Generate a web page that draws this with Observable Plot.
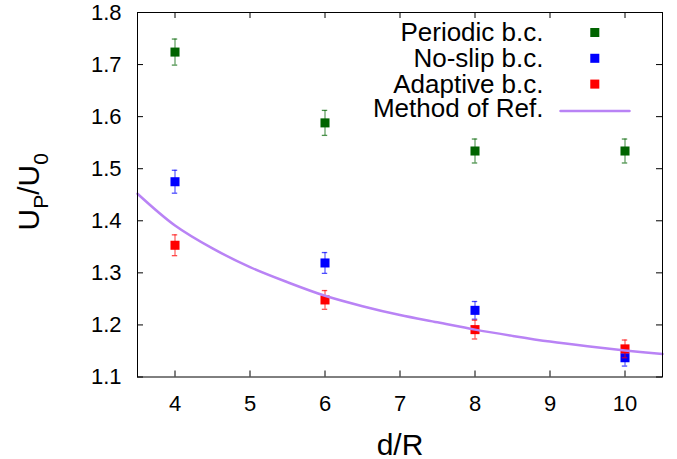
<!DOCTYPE html>
<html>
<head>
<meta charset="utf-8">
<script src="https://cdn.jsdelivr.net/npm/d3@7"></script>
<script src="https://cdn.jsdelivr.net/npm/@observablehq/plot@0.6"></script>
<style>
  html, body { margin: 0; padding: 0; background: #fff; }
  #chart svg { display: block; }
</style>
</head>
<body>
<div id="chart"></div>
<script>
// ---- data ----
const dR = [4, 6, 8, 10];
const periodic = [1.724, 1.588, 1.534, 1.534];
const periodicErr = [0.025, 0.024, 0.023, 0.023];
const noslip = [1.475, 1.319, 1.228, 1.137];
const noslipErr = [0.022, 0.020, 0.017, 0.016];
const adaptive = [1.353, 1.248, 1.191, 1.154];
const adaptiveErr = [0.020, 0.018, 0.018, 0.017];

const refX = [3.5, 4, 4.5, 5, 5.5, 6, 6.5, 7, 7.5, 8, 8.5, 9, 9.5, 10, 10.5];
const refY = [1.452, 1.391, 1.347, 1.311, 1.282, 1.256, 1.236, 1.219, 1.205, 1.191, 1.179, 1.168, 1.159, 1.151, 1.144];

const xTicks = [4, 5, 6, 7, 8, 9, 10];
const yTicks = [1.1, 1.2, 1.3, 1.4, 1.5, 1.6, 1.7, 1.8];

const seriesNames = ["Periodic b.c.", "No-slip b.c.", "Adaptive b.c."];
const seriesColors = ["#006400", "#0000ff", "#ff0000"];
const refName = "Method of Ref.";
const refColor = "#b983f5";
const xLabel = "d/R";

// ---- layout ----
const W = 677, H = 459;
const mL = 137, mR = 15, mT = 12, mB = 82.5;
const pw = W - mL - mR, ph = H - mT - mB;
const font = "'Liberation Sans', Arial, Helvetica, sans-serif";

const seriesVals = [periodic, noslip, adaptive];
const seriesErrs = [periodicErr, noslipErr, adaptiveErr];
const rows = [];
seriesVals.forEach((vals, s) => {
  vals.forEach((v, i) => rows.push({s, x: dR[i], y: v, lo: v - seriesErrs[s][i], hi: v + seriesErrs[s][i]}));
});
const refData = refX.map((x, i) => ({x, y: refY[i]}));

const marks = [];
// data series
seriesNames.forEach((name, s) => {
  const d = rows.filter(r => r.s === s);
  const c = seriesColors[s];
  marks.push(
    Plot.ruleX(d, {x: "x", y1: "lo", y2: "hi", stroke: c, strokeOpacity: 0.6, strokeWidth: 1.3}),
    Plot.ruleY(d, {x1: "x", x2: "x", y: "hi", insetLeft: -2.7, insetRight: -2.7, stroke: c, strokeOpacity: 0.7, strokeWidth: 1.3}),
    Plot.ruleY(d, {x1: "x", x2: "x", y: "lo", insetLeft: -2.7, insetRight: -2.7, stroke: c, strokeOpacity: 0.7, strokeWidth: 1.3}),
    Plot.dot(d, {x: "x", y: "y", symbol: "square", r: 5.1, fill: c, stroke: "none"})
  );
});
// reference curve
marks.push(Plot.line(refData, {x: "x", y: "y", stroke: refColor, strokeWidth: 2.5, curve: "catmull-rom"}));

// frame + inward ticks on all sides
marks.push(
  Plot.frame({stroke: "black", strokeWidth: 1}),
  Plot.tickX(xTicks, {x: d => d, insetTop: ph - 6, stroke: "black"}),
  Plot.tickX(xTicks, {x: d => d, insetBottom: ph - 6, stroke: "black"}),
  Plot.tickY(yTicks, {y: d => d, insetRight: pw - 6, stroke: "black"}),
  Plot.tickY(yTicks, {y: d => d, insetLeft: pw - 6, stroke: "black"}),
  Plot.axisX({ticks: xTicks, tickSize: 0, tickPadding: 18, fontSize: 22, label: null, tickFormat: d => String(d)}),
  Plot.axisY({ticks: yTicks, tickSize: 0, tickPadding: 16, fontSize: 22, label: null, tickFormat: d => d.toFixed(1)})
);

// axis titles
marks.push(
  Plot.text([xLabel], {text: d => d, frameAnchor: "bottom", dy: 77.5, lineAnchor: "bottom", fontSize: 30, fill: "black"}),
  Plot.text(["UP/U0"], {text: d => d, frameAnchor: "left", rotate: -90, textAnchor: "middle", lineAnchor: "bottom", dx: 38 - mL, dy: -3, fontSize: 30, fill: "black", className: "ylab"})
);

// legend (inside frame, top right)
const rowDy = i => 20.5 + i * 25.8;
const legFont = 26;
seriesNames.forEach((name, s) => {
  marks.push(
    Plot.text([name], {text: d => d, frameAnchor: "top-right", textAnchor: "end", lineAnchor: "middle", dx: 543 - (W - mR), dy: rowDy(s), fontSize: legFont, fill: "black"}),
    Plot.dot([name], {frameAnchor: "top-right", dx: 594.3 - (W - mR), dy: rowDy(s) - 0.5, symbol: "square", r: 5.1, fill: seriesColors[s], stroke: "none"})
  );
});
marks.push(
  Plot.text([refName], {text: d => d, frameAnchor: "top-right", textAnchor: "end", lineAnchor: "middle", dx: 543 - (W - mR), dy: rowDy(3) - 1.5, fontSize: legFont, fill: "black"}),
  Plot.vector([refName], {frameAnchor: "top-right", dx: 560 - (W - mR), dy: rowDy(3) + 0.5, length: 69, rotate: 90, anchor: "start",
    shape: {draw(ctx, l) { ctx.moveTo(0, 0); ctx.lineTo(0, -l); }}, stroke: refColor, strokeWidth: 2.5})
);

const svg = Plot.plot({
  width: W, height: H,
  marginLeft: mL, marginRight: mR, marginTop: mT, marginBottom: mB,
  x: {domain: [3.5, 10.5]},
  y: {domain: [1.1, 1.8]},
  style: {fontFamily: font, background: "#fff", color: "black", overflow: "visible"},
  marks
});

// y label with subscripts
const yl = d3.select(svg).selectAll("text").filter(function () { return this.textContent === "UP/U0"; });
yl.html('U<tspan font-size="21" dy="9">P</tspan><tspan dy="-9">/U</tspan><tspan font-size="21" dy="9">0</tspan>');

document.getElementById("chart").appendChild(svg);
</script>
</body>
</html>
